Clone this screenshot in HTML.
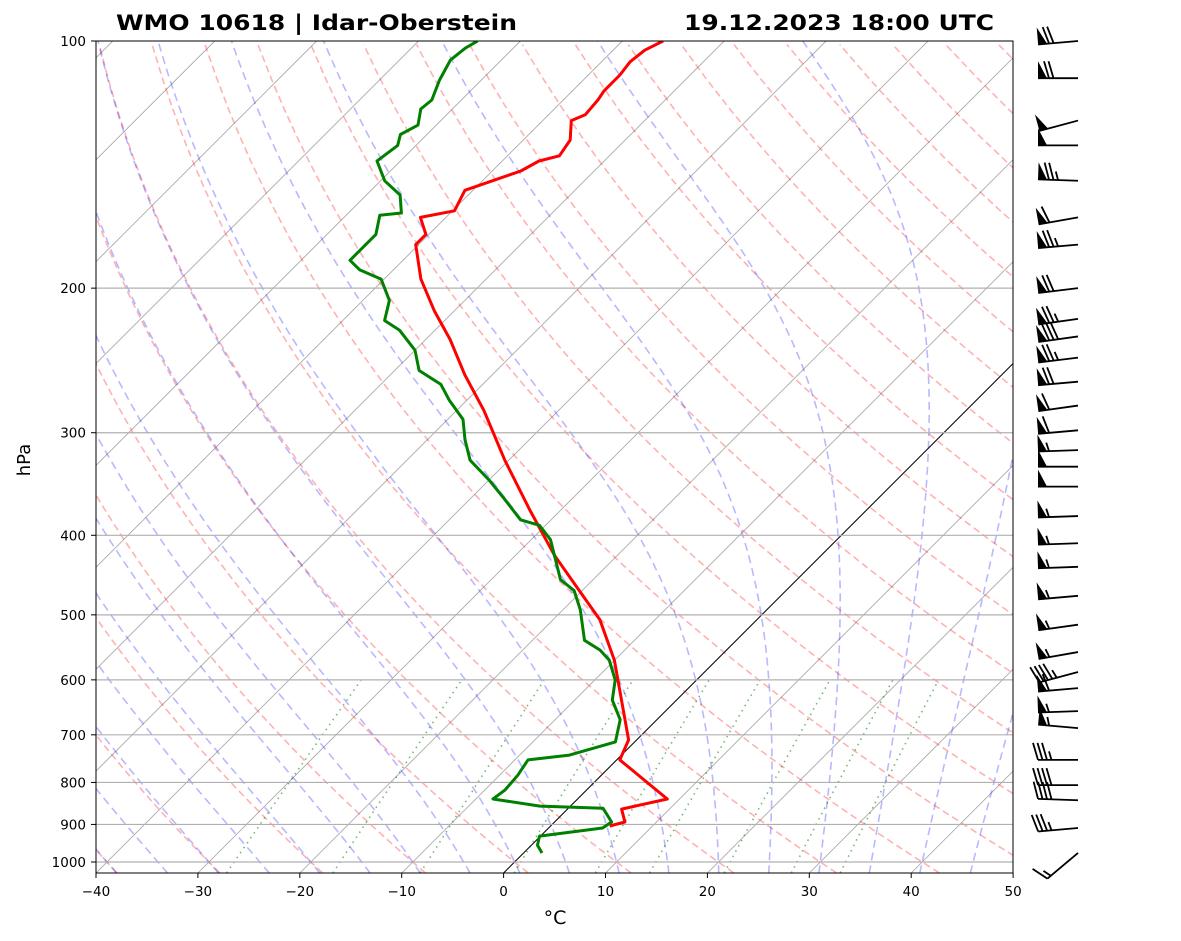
<!DOCTYPE html>
<html><head><meta charset="utf-8">
<style>
html,body{margin:0;padding:0;background:#fff;}
svg{display:block;font-family:"DejaVu Sans","Liberation Sans",sans-serif;}
</style></head>
<body>
<svg id="chart" width="1181" height="941" viewBox="0 0 1181 941" xmlns="http://www.w3.org/2000/svg">
<defs><clipPath id="plotclip"><rect x="96" y="41" width="917" height="832"/></clipPath></defs>
<rect width="1181" height="941" fill="#fff"/>
<g id="bg" clip-path="url(#plotclip)"></g>
<g id="grid"></g>
<g id="series" clip-path="url(#plotclip)"></g>
<rect x="96" y="41" width="917" height="832" fill="none" stroke="#000" stroke-width="1"/>
<g id="axes"></g>
<g id="barbs"></g>
<text x="116" y="30" font-size="21" font-weight="bold" textLength="401" lengthAdjust="spacingAndGlyphs">WMO 10618 | Idar-Oberstein</text>
<text x="684" y="30" font-size="21" font-weight="bold" textLength="310" lengthAdjust="spacingAndGlyphs">19.12.2023 18:00 UTC</text>
<text x="30" y="460" font-size="18" text-anchor="middle" transform="rotate(-90 30 460)">hPa</text>
<text x="555" y="924" font-size="19" text-anchor="middle">°C</text>
</svg>
<script>
// ---- data ----
const tempP = [100,102.6,106,110,115,118,123,125,132,138,140,144,147,152,161,164,172,177,195,213,231,255,282,324,373,423,467,507,568,635,710,751,838,862,894,904];
const tempT = [-66.0,-66.9,-67.2,-66.9,-66.9,-66.6,-66.4,-67.2,-65.4,-64.9,-66.4,-67.2,-68.6,-70.8,-69.8,-72.5,-70.3,-70.3,-66.4,-62.0,-57.6,-52.7,-47.3,-40.4,-33.0,-26.2,-20.3,-15.4,-10.0,-5.4,-0.8,0.3,8.8,5.3,6.9,5.8];
const dewP = [100,102,105.5,111.6,118,121,126.6,130,134,140,148,154,162,163,172,185,190,195,207,219,225,238,252,262,274,289,306,324,343,362,383,389,405,423,453,467,493,537,552,568,600,635,671,714,741,751,784,817,838,855,860,894,909,930,954,975];
const dewT = [-84.2,-84.7,-85.0,-84.1,-82.9,-83.1,-81.8,-82.6,-81.8,-82.3,-79.6,-76.7,-74.8,-76.7,-75.2,-75.2,-73.3,-70.3,-67.4,-65.9,-63.5,-60.0,-57.6,-54.1,-51.7,-48.5,-46.3,-43.8,-39.9,-36.5,-33.0,-30.6,-28.1,-26.2,-23.2,-20.8,-18.3,-14.9,-12.4,-10.5,-8.0,-6.3,-3.6,-1.9,-5.1,-8.7,-8.2,-8.0,-8.3,-3.0,3.4,5.6,5.3,-0.1,0.6,1.8];
const barbP = [100,111,125,134,148,164,177,200,218,229,243,260,278,298,315,330,349,379,409,437,474,514,555,587,614,655,687,751,806,841,909,975];
const barbDir = [265,270,255,270,272,260,265,263,262,262,263,265,262,265,268,270,270,268,268,268,265,262,260,255,265,268,275,270,270,272,265,230];
const barbSpd = [70,70,50,50,75,60,75,70,75,80,75,70,60,60,55,50,50,55,55,55,55,55,55,45,60,55,55,35,40,40,35,15];
const pTicks = [100,200,300,400,500,600,700,800,900,1000];
const tTicks = [-40,-30,-20,-10,0,10,20,30,40,50];
const mixRatios = [0.0004,0.001,0.002,0.004,0.007,0.01,0.016,0.024,0.032];

// ---- axes ----
const NS='http://www.w3.org/2000/svg';
const PBOT = 1031;
function py(p){return 41 + Math.log10(p/100)*821;}
function px(T,p){return 96 + (T+40)*10.19 + (873 - py(p));}
function mk(tag,attrs,parent){const e=document.createElementNS(NS,tag);for(const k in attrs)e.setAttribute(k,attrs[k]);parent.appendChild(e);return e;}
function pathFrom(pts){return pts.map((q,i)=>(i?'L':'M')+q[0].toFixed(1)+' '+q[1].toFixed(1)).join(' ');}
const bg=document.getElementById('bg'), grid=document.getElementById('grid'), series=document.getElementById('series'), axes=document.getElementById('axes'), barbs=document.getElementById('barbs');

for(let T=-150;T<=50;T+=10){
  const l=mk('line',{x1:px(T,PBOT),y1:py(PBOT),x2:px(T,100),y2:py(100),stroke:'#aaa','stroke-width':0.9},bg);
  
  
}
for(let th=-50;th<=200;th+=10){
  const pts=[];
  for(let p=PBOT;p>=100;p-=10){const T=(th+273.15)*Math.pow(p/1000,0.286)-273.15;pts.push([px(T,p),py(p)]);}
  const e=mk('path',{d:pathFrom(pts),fill:'none',stroke:'rgba(255,0,0,0.3)','stroke-width':1.6,'stroke-dasharray':'7,4'},bg);
  
  
}
function es(T){return 6.112*Math.exp(17.67*(T-273.15)/(T-29.65));}
function dTdp(T,p){const e=es(T);const rs=0.622*e/(p-e);const Lv=2.501e6,Rd=287,Cp=1005;
  return (Rd*T+Lv*rs)/(p*(Cp+Lv*Lv*rs*0.622/(Rd*T*T)));}
const moistT0=[];
for(let t=-50;t<=50;t+=5)moistT0.push(t);
moistT0.forEach(t0=>{
  let pts=[];let T=t0+273.15;
  const dn=[];let Td=T;
  for(let p=1000;p<PBOT;p+=2){const k1=dTdp(Td,p);const k2=dTdp(Td+k1*1,p+1);Td+=k2*2;dn.push([px(Td-273.15,p+2),py(p+2)]);}
  pts=dn.reverse();pts.push([px(t0,1000),py(1000)]);
  for(let p=1000;p>100;p-=2){const k1=dTdp(T,p);const k2=dTdp(T-k1*1,p-1);T-=k2*2;pts.push([px(T-273.15,p-2),py(p-2)]);}
  const e=mk('path',{d:pathFrom(pts),fill:'none',stroke:'rgba(0,0,255,0.28)','stroke-width':1.6,'stroke-dasharray':'8,5'},bg);
  
  
});
mixRatios.forEach(w=>{
  const pts=[];
  for(let p=PBOT;p>=600;p-=10){const e=w*p/(0.622+w);const l=Math.log(e/6.112);const Td=243.5*l/(17.67-l);pts.push([px(Td,p),py(p)]);}
  const e=mk('path',{d:pathFrom(pts),fill:'none',stroke:'rgba(0,128,0,0.55)','stroke-width':1.6,'stroke-dasharray':'1.5,4.5'},bg);
  
  
});
{const e=mk('line',{x1:px(0,PBOT),y1:py(PBOT),x2:px(0,100),y2:py(100),stroke:'#000','stroke-width':1},bg);

}

pTicks.forEach(p=>{
  const y=py(p);
  if(p>100){const g=mk('line',{x1:96,y1:y,x2:1013,y2:y,stroke:'#b0b0b0','stroke-width':1.2},grid);
  
  }
  const t=mk('line',{x1:91,y1:y,x2:96,y2:y,stroke:'#000'},axes);
  
  
  const tx=mk('text',{x:86,y:y+5,'font-size':13.5,'text-anchor':'end'},axes);tx.textContent=p;
  
  
});
tTicks.forEach(T=>{
  const x=96+(T+40)*10.19;
  const t=mk('line',{x1:x,y1:873,x2:x,y2:878,stroke:'#000'},axes);
  
  
  const tx=mk('text',{x:x,y:896,'font-size':13.5,'text-anchor':'middle'},axes);tx.textContent=(T<0?'\u2212'+(-T):T);
  
  
});

{const d=pathFrom(tempP.map((p,i)=>[px(tempT[i],p),py(p)]));
const e=mk('path',{d:d,fill:'none',stroke:'#ff0000','stroke-width':3,'stroke-linejoin':'round'},series);

}
{const d=pathFrom(dewP.map((p,i)=>[px(dewT[i],p),py(p)]));
const e=mk('path',{d:d,fill:'none',stroke:'#008000','stroke-width':3,'stroke-linejoin':'round'},series);

}

barbP.forEach((p,i)=>{
  const ox=1078, oy=py(p);
  const r=barbDir[i]*Math.PI/180;
  const sx=Math.sin(r), sy=-Math.cos(r);
  const nx=-sy, ny=sx;
  const L=40, H=17;
  const g=mk('g',{},barbs);
  
  
  const tx=ox+sx*L, ty=oy+sy*L;
  mk('line',{x1:ox,y1:oy,x2:tx,y2:ty,stroke:'#000','stroke-width':1.8},g);
  let spd=Math.round(barbSpd[i]/5)*5; let pos=0;
  while(spd>=50){
    const ax=ox+sx*(L-pos), ay=oy+sy*(L-pos);
    const bx=ox+sx*(L-pos-9), by=oy+sy*(L-pos-9);
    mk('polygon',{points:`${ax},${ay} ${bx},${by} ${ax+nx*H},${ay+ny*H}`,fill:'#000'},g);
    pos+=10; spd-=50;
  }
  if(pos>0)pos+=1;
  while(spd>=10){
    const ax=ox+sx*(L-pos), ay=oy+sy*(L-pos);
    mk('line',{x1:ax,y1:ay,x2:ax+nx*H+sx*5,y2:ay+ny*H+sy*5,stroke:'#000','stroke-width':1.8},g);
    pos+=4.5; spd-=10;
  }
  if(spd>=5){
    if(pos===0)pos=4.5;
    const ax=ox+sx*(L-pos), ay=oy+sy*(L-pos);
    mk('line',{x1:ax,y1:ay,x2:ax+nx*H*0.5+sx*2.5,y2:ay+ny*H*0.5+sy*2.5,stroke:'#000','stroke-width':1.8},g);
  }
});
</script>
</body></html>
